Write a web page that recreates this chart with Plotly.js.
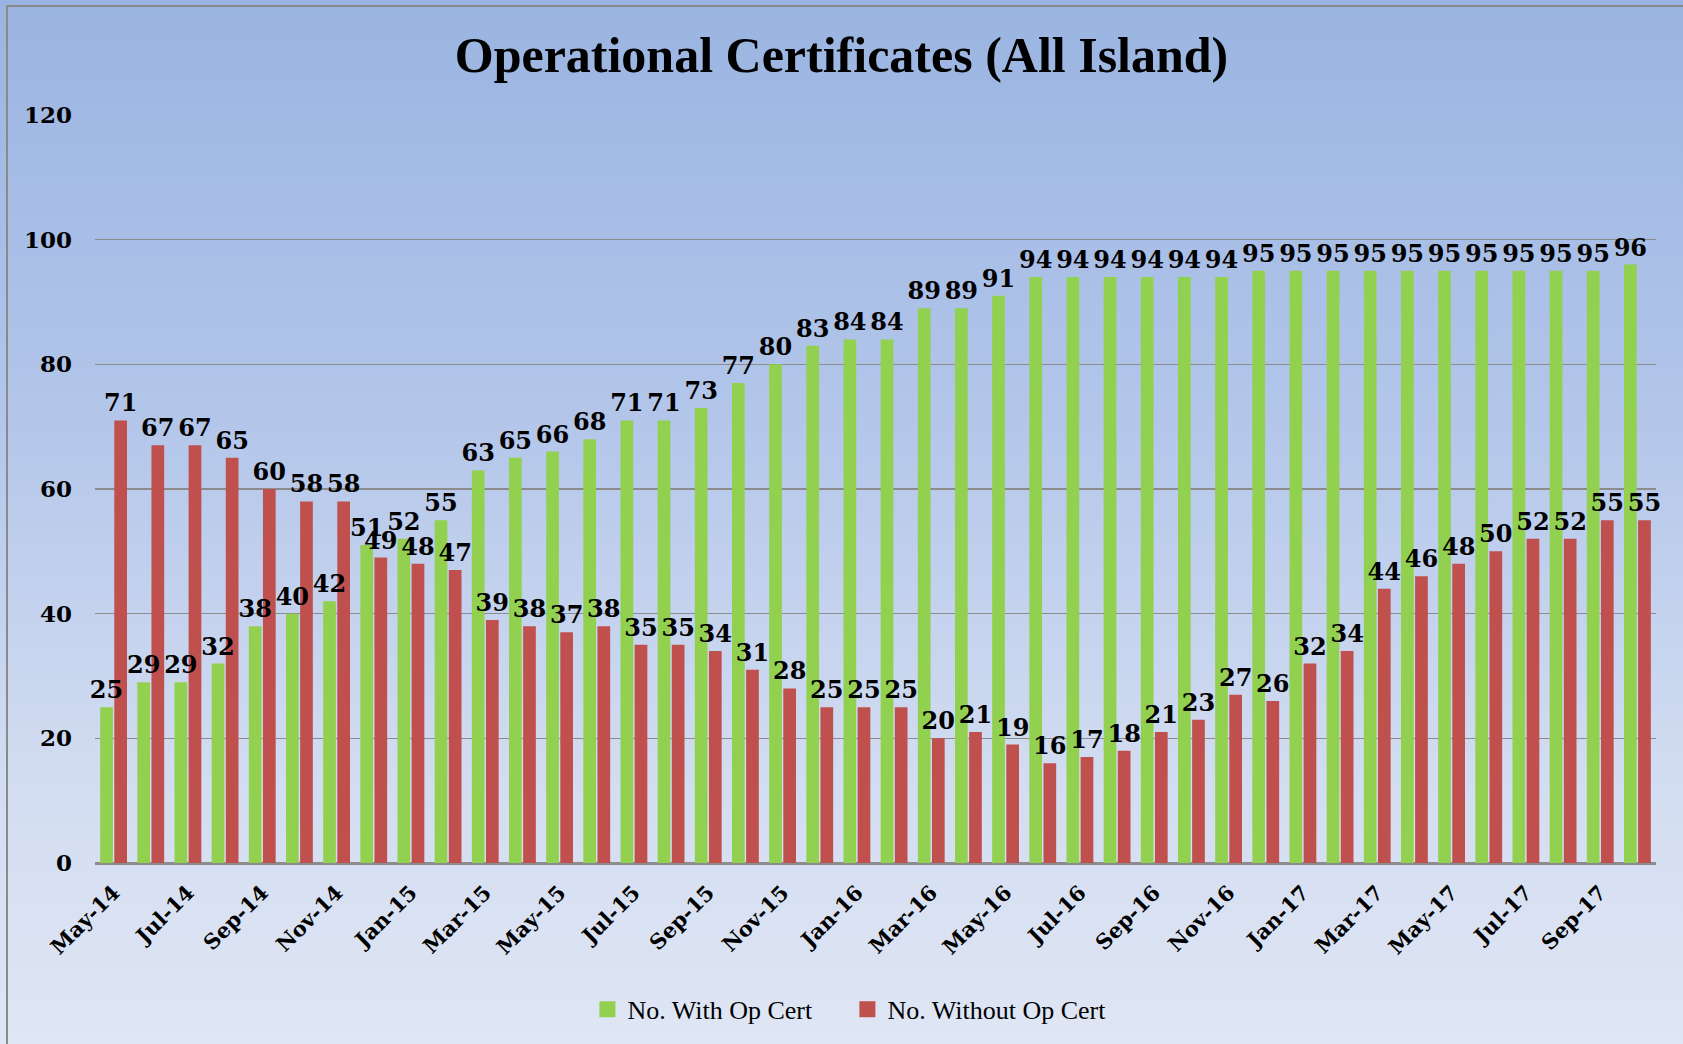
<!DOCTYPE html>
<html>
<head>
<meta charset="utf-8">
<script src="https://cdn.plot.ly/plotly-3.0.1.min.js"></script>
<style>
  html, body { margin:0; padding:0; width:1683px; height:1044px; overflow:hidden; }
  body { background: linear-gradient(to bottom, #9ab4e1 0%, #b3c6ea 40%, #d3ddf1 75%, #dfe6f4 100%); }
  #frame { position:absolute; left:6px; top:5px; width:1700px; height:1060px; border:2px solid #8a8a8a; box-sizing:border-box; }
  #chart { position:absolute; left:0; top:0; width:1683px; height:1044px; }
</style>
</head>
<body>
<div id="frame"></div>
<div id="chart"></div>
<script>
const months = ["May-14","Jun-14","Jul-14","Aug-14","Sep-14","Oct-14","Nov-14","Dec-14",
  "Jan-15","Feb-15","Mar-15","Apr-15","May-15","Jun-15","Jul-15","Aug-15","Sep-15","Oct-15","Nov-15","Dec-15",
  "Jan-16","Feb-16","Mar-16","Apr-16","May-16","Jun-16","Jul-16","Aug-16","Sep-16","Oct-16","Nov-16","Dec-16",
  "Jan-17","Feb-17","Mar-17","Apr-17","May-17","Jun-17","Jul-17","Aug-17","Sep-17","Oct-17"];
const withCert = [25,29,29,32,38,40,42,51,52,55,63,65,66,68,71,71,73,77,80,83,84,84,89,89,91,
  94,94,94,94,94,94,95,95,95,95,95,95,95,95,95,95,96];
const withoutCert = [71,67,67,65,60,58,58,49,48,47,39,38,37,38,35,35,34,31,28,25,25,25,20,21,19,
  16,17,18,21,23,27,26,32,34,44,46,48,50,52,52,55,55];
const tickLabels = ["May-14","Jul-14","Sep-14","Nov-14","Jan-15","Mar-15","May-15","Jul-15","Sep-15","Nov-15",
  "Jan-16","Mar-16","May-16","Jul-16","Sep-16","Nov-16","Jan-17","Mar-17","May-17","Jul-17","Sep-17"];
const seriesNames = ["No. With Op Cert","No. Without Op Cert"];
const seriesColors = ["#92d050","#c0504d"];

const labelFont = {family:"DejaVu Serif", size:24, color:"#000", weight:"bold"};
const seriesData = [withCert, withoutCert];

const traces = [];
// visible bars
seriesData.forEach((vals, k) => {
  traces.push({type:"bar", name:seriesNames[k], x:months, y:vals, marker:{color:seriesColors[k]},
    xaxis:"x", yaxis:"y", showlegend:false, hoverinfo:"x+y"});
});
// label layer on overlaid axes, so every label sits above all bars
seriesData.forEach((vals, k) => {
  traces.push({type:"bar", name:seriesNames[k]+" labels", x:months, y:vals, marker:{color:"rgba(0,0,0,0)"},
    text:vals.map(String), textposition:"outside", textfont:labelFont, constraintext:"none", cliponaxis:false,
    xaxis:"x2", yaxis:"y2", showlegend:false, hoverinfo:"skip"});
});
// legend entries with larger square keys
seriesNames.forEach((nm, k) => {
  traces.push({type:"scatter", mode:"markers", name:nm, x:[null], y:[null],
    marker:{symbol:"square", size:16, color:seriesColors[k]}, xaxis:"x", yaxis:"y", hoverinfo:"skip"});
});

const layout = {
  width:1683, height:1044,
  paper_bgcolor:"rgba(0,0,0,0)", plot_bgcolor:"rgba(0,0,0,0)",
  margin:{l:95, r:27, t:115, b:180},
  title:{text:"<b>Operational Certificates (All Island)</b>", x:0.5, xanchor:"center", y:0.948, yanchor:"middle", yref:"container",
    font:{family:"Liberation Serif", size:50, color:"#000"}},
  barmode:"group", bargap:0.24, bargroupgap:0.1,
  xaxis:{type:"category", categoryorder:"array", categoryarray:months, tickmode:"array", tickvals:tickLabels, ticktext:tickLabels.map(s=>"<b>"+s+"</b>"),
    tickangle:-45, tickfont:{family:"DejaVu Serif", size:21, color:"#000"}, showgrid:false, ticklabelstandoff:7,
    showline:true, linecolor:"#8c8c8c", linewidth:2, ticks:"", automargin:false},
  yaxis:{range:[0,120], dtick:20, tickfont:{family:"DejaVu Serif", size:23, color:"#000", weight:"bold"},
    gridcolor:"#8c8c8c", gridwidth:1.5, zeroline:true, zerolinecolor:"#8c8c8c", zerolinewidth:2,
    showline:false, ticks:"", ticklabelstandoff:22, automargin:false},
  xaxis2:{type:"category", overlaying:"x", matches:"x", showticklabels:false, showgrid:false, showline:false, zeroline:false, ticks:""},
  yaxis2:{overlaying:"y", matches:"y", range:[0,120], showticklabels:false, showgrid:false, showline:false, zeroline:false, ticks:""},
  showlegend:true,
  legend:{orientation:"h", x:0.482, xanchor:"center", y:-0.194, yanchor:"middle", entrywidth:215, itemwidth:30,
    font:{family:"Liberation Serif", size:26, color:"#000"}, bgcolor:"rgba(0,0,0,0)", traceorder:"normal"}
};

Plotly.newPlot("chart", traces, layout, {displayModeBar:false, staticPlot:true});
</script>
</body>
</html>
